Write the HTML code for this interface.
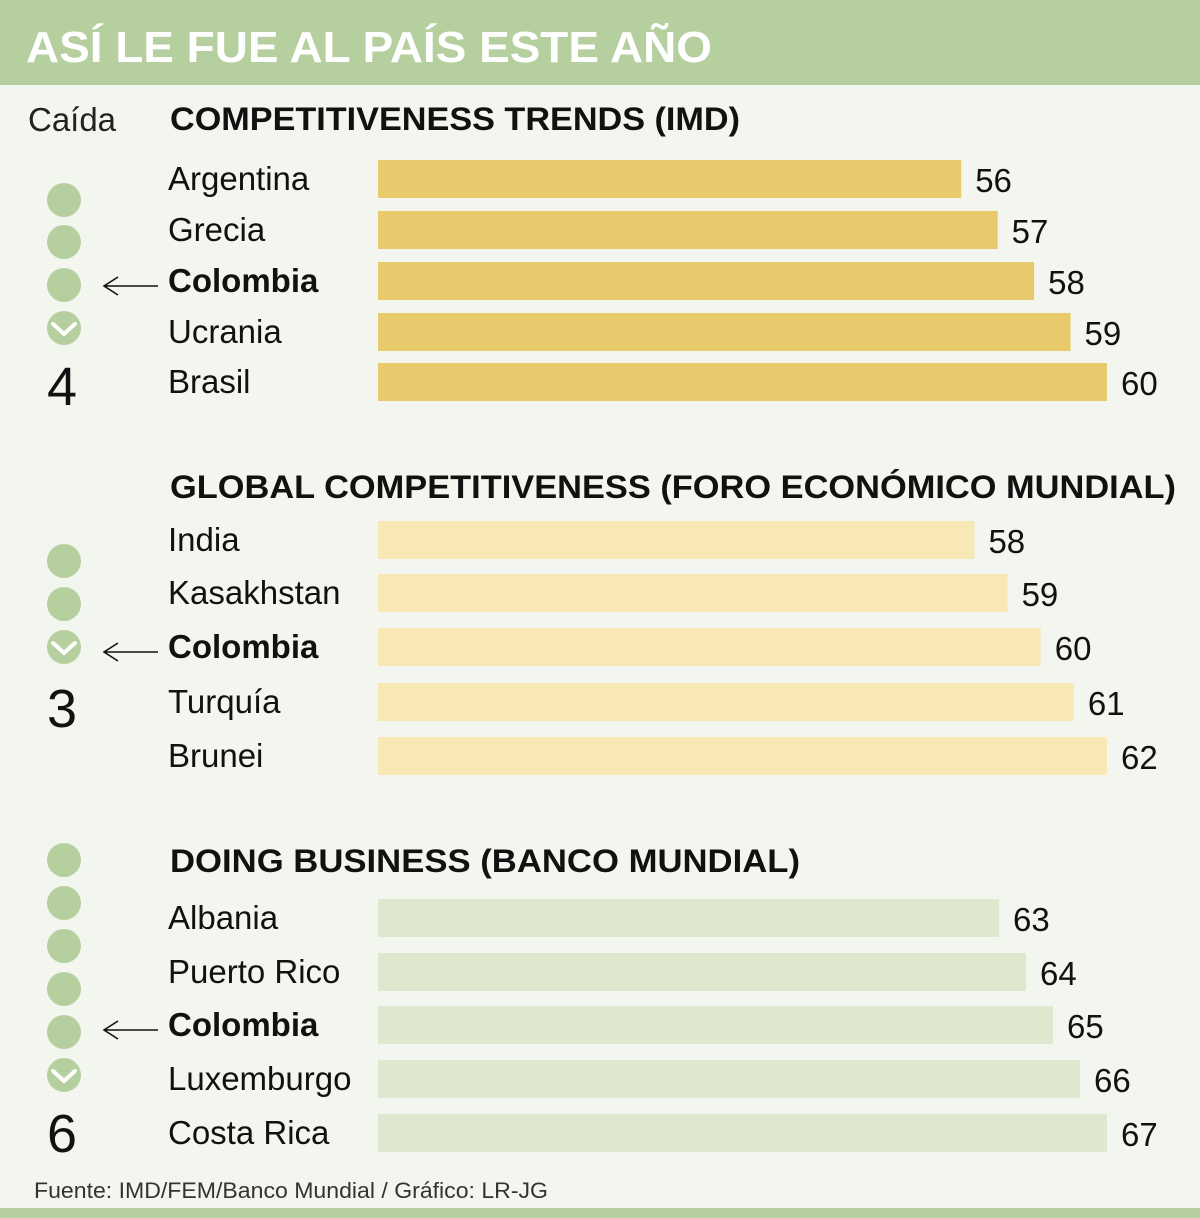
<!DOCTYPE html>
<html><head><meta charset="utf-8"><style>
body{margin:0;background:#f3f6ee;}
svg{display:block;font-family:"Liberation Sans",sans-serif;}
</style></head><body>
<svg id="c" width="1200" height="1218" viewBox="0 0 1200 1218">
<rect x="0" y="0" width="1200" height="1218" fill="#f3f6ee"/>
<rect x="0" y="0" width="1200" height="85" fill="#b5cf9e"/>
<text x="26" y="62" fill="#fff" font-weight="bold" font-size="44" textLength="686" lengthAdjust="spacingAndGlyphs">ASÍ LE FUE AL PAÍS ESTE AÑO</text>
<text x="28" y="131" font-size="33" fill="#222" textLength="88" lengthAdjust="spacingAndGlyphs">Caída</text>
<text x="34" y="1198" font-size="22" fill="#333" textLength="514" lengthAdjust="spacingAndGlyphs">Fuente: IMD/FEM/Banco Mundial / Gráfico: LR-JG</text>
<rect x="0" y="1208" width="1200" height="10" fill="#b5cf9e"/>
<g id="g"></g>
</svg>
<script>
const titles1="COMPETITIVENESS TRENDS (IMD)";
const titles2="GLOBAL COMPETITIVENESS (FORO ECONÓMICO MUNDIAL)";
const titles3="DOING BUSINESS (BANCO MUNDIAL)";
const countries1=["Argentina","Grecia","Colombia","Ucrania","Brasil"];
const values1=[56,57,58,59,60];
const countries2=["India","Kasakhstan","Colombia","Turquía","Brunei"];
const values2=[58,59,60,61,62];
const countries3=["Albania","Puerto Rico","Colombia","Luxemburgo","Costa Rica"];
const values3=[63,64,65,66,67];
const drops=[4,3,6];

const NS="http://www.w3.org/2000/svg";
const g=document.getElementById('g');
function el(t,a,txt){const e=document.createElementNS(NS,t);for(const k in a)e.setAttribute(k,a[k]);if(txt!==undefined)e.textContent=txt;g.appendChild(e);return e;}
const sections=[
 {title:titles1,tw:570,ty:130,cats:countries1,vals:values1,tops:[160,211,262,313,363],color:"#e8c96c",circles:[200,242,285,328],dropY:405},
 {title:titles2,tw:1006,ty:498,cats:countries2,vals:values2,tops:[521,574,628,683,737],color:"#f7e8b6",circles:[561,604,647],dropY:727},
 {title:titles3,tw:630,ty:872,cats:countries3,vals:values3,tops:[899,953,1006,1060,1114],color:"#dde8cf",circles:[860,903,946,989,1032,1075],dropY:1152}
];
const X0=378,XMAX=1107,BASE=40;
sections.forEach((s,si)=>{
  const maxV=Math.max(...s.vals);
  const xs=v=>X0+(v-BASE)*(XMAX-X0)/(maxV-BASE);
  let t=el('text',{x:170,y:s.ty,'font-size':32,'font-weight':'bold',fill:'#111',textLength:s.tw,lengthAdjust:'spacingAndGlyphs'},s.title);
  
  
  s.cats.forEach((c,i)=>{
    const top=s.tops[i];
    const r=el('rect',{x:X0,y:top,width:xs(s.vals[i])-X0,height:38,fill:s.color});
    
    
    const isCol=c==="Colombia";
    const lbl=el('text',{x:168,y:top+30,'font-size':33,fill:'#111','font-weight':isCol?'bold':'normal'},c);
    
    
    const v=el('text',{x:xs(s.vals[i])+14,y:top+32,'font-size':33,fill:'#111'},s.vals[i]);
    
    
    if(isCol){
      const a=el('path',{d:`M158 ${top+24} H104 M118 ${top+15} L104 ${top+24} L118 ${top+33}`,stroke:'#111','stroke-width':1.6,fill:'none'});
      
      
    }
  });
  s.circles.forEach((cy,i)=>{
    const c=el('circle',{cx:64,cy:cy,r:17,fill:'#b5cf9e'});
    
    
    if(i===s.circles.length-1){
      const ch=el('path',{d:`M53 ${cy-4} L64 ${cy+6} L75 ${cy-4}`,stroke:'#fff','stroke-width':4,fill:'none','stroke-linecap':'round','stroke-linejoin':'round'});
      
      
    }
  });
  const d=el('text',{x:62,y:s.dropY,'font-size':54,fill:'#111','text-anchor':'middle'},drops[si]);
  
  
});
</script>
</body></html>
